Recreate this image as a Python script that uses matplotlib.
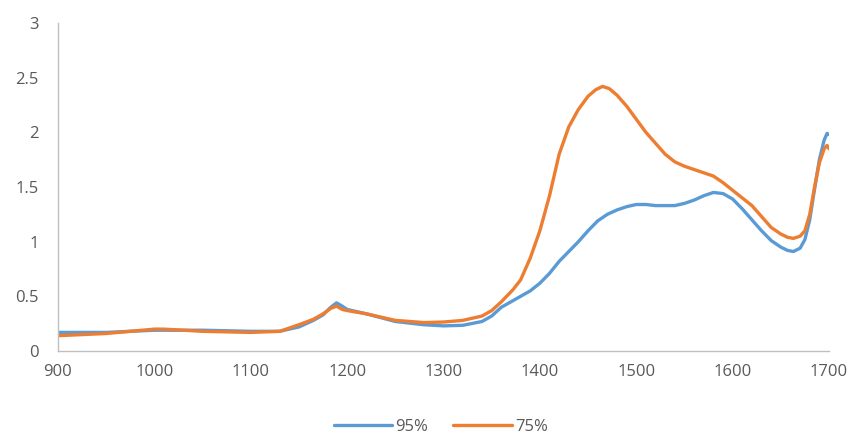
import matplotlib
matplotlib.use("Agg")
import matplotlib.pyplot as plt

x95 = [900, 950, 1000, 1050, 1100, 1130, 1150, 1165, 1175, 1183, 1189, 1195, 1200, 1220, 1250, 1280, 1300,
       1320, 1340, 1350, 1360, 1370, 1380, 1390, 1400, 1410, 1420, 1430, 1440, 1450, 1460, 1470, 1480,
       1490, 1500, 1510, 1520, 1530, 1540, 1550, 1560, 1570, 1580, 1590, 1600, 1610, 1620, 1630, 1640,
       1650, 1657, 1663, 1670, 1675, 1680, 1685, 1690, 1695, 1698, 1700]
y95 = [0.17, 0.17, 0.19, 0.19, 0.18, 0.18, 0.22, 0.28, 0.33, 0.40, 0.44, 0.41, 0.38, 0.34, 0.27, 0.24, 0.23,
       0.235, 0.27, 0.32, 0.40, 0.45, 0.50, 0.55, 0.62, 0.71, 0.82, 0.91, 1.00, 1.10, 1.19, 1.25, 1.29,
       1.32, 1.34, 1.34, 1.33, 1.33, 1.33, 1.35, 1.38, 1.42, 1.45, 1.44, 1.39, 1.30, 1.20, 1.10, 1.01,
       0.95, 0.92, 0.91, 0.94, 1.02, 1.20, 1.48, 1.75, 1.93, 1.99, 1.98]

x75 = [900, 950, 1000, 1010, 1050, 1100, 1130, 1150, 1165, 1175, 1183, 1189, 1195, 1200, 1220, 1250, 1280,
       1300, 1320, 1340, 1350, 1360, 1372, 1380, 1390, 1400, 1410, 1420, 1430, 1440, 1450, 1458,
       1465, 1472, 1480, 1490, 1500, 1510, 1520, 1530, 1540, 1550, 1560, 1570, 1580, 1590, 1600,
       1610, 1620, 1630, 1640, 1650, 1657, 1663, 1670, 1675, 1680, 1685, 1690, 1695, 1698, 1700]
y75 = [0.14, 0.16, 0.20, 0.20, 0.18, 0.17, 0.18, 0.24, 0.29, 0.34, 0.39, 0.41, 0.38, 0.37, 0.34, 0.28, 0.26,
       0.265, 0.28, 0.32, 0.37, 0.45, 0.56, 0.65, 0.85, 1.10, 1.42, 1.80, 2.05, 2.21, 2.33, 2.39,
       2.42, 2.40, 2.34, 2.24, 2.12, 2.00, 1.90, 1.80, 1.73, 1.69, 1.66, 1.63, 1.60, 1.54, 1.47,
       1.40, 1.33, 1.23, 1.13, 1.07, 1.04, 1.03, 1.05, 1.10, 1.25, 1.50, 1.72, 1.85, 1.88, 1.85]

xticks = [900, 1000, 1100, 1200, 1300, 1400, 1500, 1600, 1700]
yticks = [0, 0.5, 1, 1.5, 2, 2.5, 3]
ytick_labels = ["0", "0.5", "1", "1.5", "2", "2.5", "3"]

plt.rcParams['font.family'] = ['Open Sans', 'DejaVu Sans']

fig = plt.figure(figsize=(8.56, 4.36), dpi=100)
ax = fig.add_axes([58/856, 1-351/436, (829-58)/856, (351-23)/436])

blue = "#5B9BD5"
orange = "#ED7D31"
ax.plot(x95, y95, color=blue, lw=2.4, solid_joinstyle='round', solid_capstyle='round', label="95%")
ax.plot(x75, y75, color=orange, lw=2.4, solid_joinstyle='round', solid_capstyle='round', label="75%")

ax.set_xlim(900, 1700)
ax.set_ylim(0, 3)
ax.set_xticks(xticks)
ax.set_xticklabels([str(t) for t in xticks])
ax.set_yticks(yticks)
ax.set_yticklabels(ytick_labels)
ax.tick_params(axis='both', length=0, labelsize=12, labelcolor="#595959")
ax.tick_params(axis='x', pad=9)
ax.tick_params(axis='y', pad=14)
for s in ['top', 'right']:
    ax.spines[s].set_visible(False)
for s in ['left', 'bottom']:
    ax.spines[s].set_color("#BFBFBF")
    ax.spines[s].set_linewidth(1.0)

leg = fig.legend(loc='center', bbox_to_anchor=(0.515, 1-427/436), ncol=2, frameon=False,
                 fontsize=12, handlelength=3.5, handletextpad=0.2, columnspacing=1.5)
for t in leg.get_texts():
    t.set_color("#595959")

fig.savefig("out.png", dpi=100)
